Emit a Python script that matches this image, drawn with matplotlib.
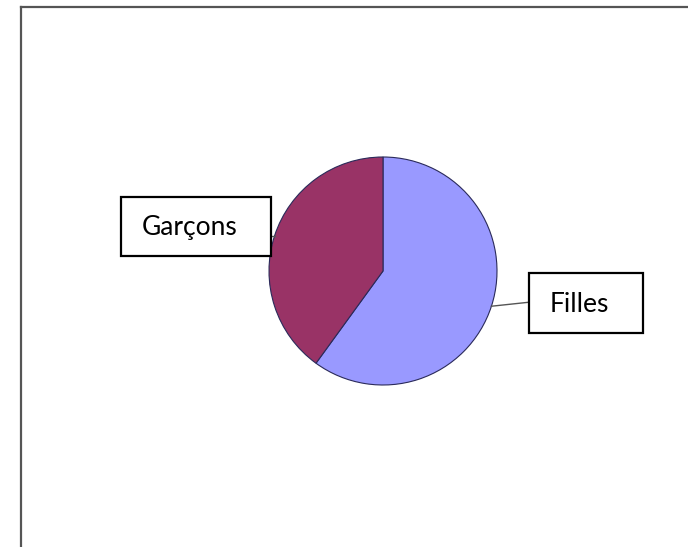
import numpy as np
import matplotlib
matplotlib.use("Agg")
import matplotlib.pyplot as plt
from matplotlib.patches import Rectangle
from matplotlib.lines import Line2D

categories = ["Filles", "Garçons"]
values = [60, 40]
colors = ["#9999FF", "#993366"]

W, H = 688, 547
fig = plt.figure(figsize=(W / 100, H / 100), dpi=100)
ax = fig.add_axes([0, 0, 1, 1])

cx, cy, r = 383, H - 271, 114
wedges, _ = ax.pie(values, colors=colors, startangle=90, counterclock=False,
                   center=(cx, cy), radius=r,
                   wedgeprops=dict(edgecolor="#2a2a5a", linewidth=0.8))
ax.set_xlim(0, W)
ax.set_ylim(0, H)
ax.set_aspect("equal")
ax.axis("off")

# label boxes (x0, y0_top_in_pixels, width, height)
boxes = {"Filles": (529, 273, 114, 60), "Garçons": (121, 197, 150, 59)}

for w, name in zip(wedges, categories):
    mid = np.deg2rad((w.theta1 + w.theta2) / 2)
    px, py = cx + r * np.cos(mid), cy + r * np.sin(mid)
    bx, by, bw, bh = boxes[name]
    y_top = H - by
    rect = Rectangle((bx, y_top - bh), bw, bh, facecolor="white",
                     edgecolor="black", linewidth=1.6, zorder=5)
    ax.add_patch(rect)
    ax.text(bx + 21, y_top - bh / 2 + 1, name, ha="left", va="center_baseline",
            fontsize=19, color="black", family=["Lato", "DejaVu Sans"], zorder=6)
    # leader
    if px > cx:
        ex = bx
    else:
        ex = bx + bw
    ax.plot([px, ex], [py, py + (0 if px < cx else 4)], color="#555555",
            linewidth=1.0, zorder=4)

# partial outer frame (top and left)
fig.add_artist(Line2D([20.5 / W, 1], [1 - 6.5 / H, 1 - 6.5 / H],
                      color="#555555", linewidth=1.6, transform=fig.transFigure))
fig.add_artist(Line2D([20.5 / W, 20.5 / W], [0, 1 - 6.5 / H],
                      color="#555555", linewidth=1.6, transform=fig.transFigure))

fig.savefig("out.png", dpi=100, facecolor="white")
